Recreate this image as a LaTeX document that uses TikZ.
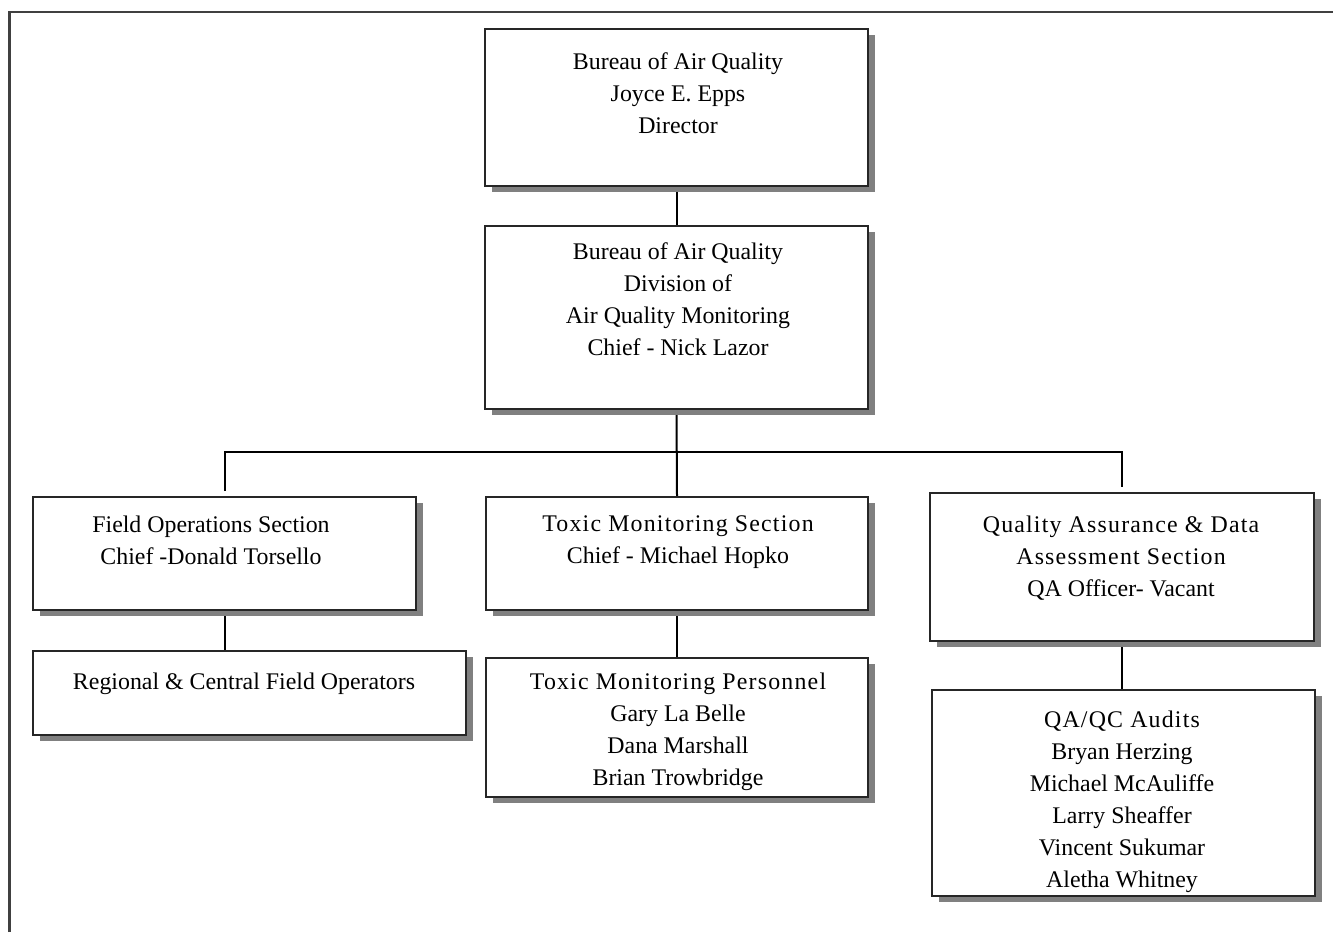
\documentclass[tikz,border=0pt]{standalone}
\usepackage{fontspec}
\setmainfont{Liberation Serif}
\newfontfamily\spacedfont[LetterSpace=5]{Liberation Serif}
\usetikzlibrary{fit,shadows}
\pgfdeclarelayer{background}
\pgfsetlayers{background,main}
\tikzset{
  orgbox/.style={draw=black!85, line width=1pt, fill=white, inner sep=0pt,
    drop shadow={shadow xshift=5pt, shadow yshift=-4.5pt, opacity=1, fill=black!50}},
  txt/.style={align=center, inner sep=0pt, anchor=north, font=\fontsize{17.9}{24}\selectfont},
  conn/.style={draw=black, line width=1.5pt},
  frameline/.style={draw=black!75, line width=1.8pt}
}
\begin{document}
\begin{tikzpicture}[x=0.75pt,y=-0.75pt]
\useasboundingbox (0,0) rectangle (1333,932);
% page frame
\coordinate (fbl) at (9.5,932);
\coordinate (ftl) at (9.5,12);
\coordinate (ftr) at (1333,12);
\draw[frameline] (fbl) -- (ftl) -- (ftr);
% boxes
\node[orgbox, fit={(485,29) (868,186)}] (dir) {};
\node[orgbox, fit={(485,226) (868,409)}] (div) {};
\node[orgbox, fit={(33,497) (416,610)}] (field) {};
\node[orgbox, fit={(486,497) (868,610)}] (tox) {};
\node[orgbox, fit={(930,493) (1314,641)}] (qa) {};
\node[orgbox, fit={(33,651) (466,735)}] (reg) {};
\node[orgbox, fit={(486,658) (868,797)}] (pers) {};
\node[orgbox, fit={(932,690) (1315,896)}] (qaqc) {};
% texts
\node[txt] (dirt) at (678,52) {Bureau of Air Quality\\Joyce E. Epps\\Director};
\node[txt] (divt) at (678,242) {Bureau of Air Quality\\Division of\\Air Quality Monitoring\\Chief - Nick Lazor};
\node[txt] (fieldt) at (211,516) {Field Operations Section\\Chief -Donald Torsello};
\node[txt] (toxt) at (678,515) {{\spacedfont Toxic Monitoring Section}\\Chief - Michael Hopko};
\node[txt] (qat) at (1121,516) {{\spacedfont Quality Assurance \& Data}\\{\spacedfont Assessment Section}\\QA Officer- Vacant};
\node[txt] (regt) at (244,673) {Regional \& Central Field Operators};
\node[txt] (perst) at (678,673) {{\spacedfont Toxic Monitoring Personnel}\\Gary La Belle\\Dana Marshall\\Brian Trowbridge};
\node[txt] (qaqct) at (1122,711) {{\spacedfont QA/QC Audits}\\Bryan Herzing\\Michael McAuliffe\\Larry Sheaffer\\Vincent Sukumar\\Aletha Whitney};
% connectors
\coordinate (bus) at (678,452);
\begin{pgfonlayer}{background}
\draw[conn] (dir.south) -- (div.north);
\draw[conn] (div.south) -- (tox.north);
\draw[conn] ([yshift=4pt]field.north) |- (bus) -| ([yshift=4pt]qa.north);
\draw[conn] (field.south) -- (field.south |- reg.north);
\draw[conn] (tox.south) -- (pers.north);
\draw[conn] (qa.south) -- (qa.south |- qaqc.north);
\end{pgfonlayer}
\end{tikzpicture}
\end{document}
